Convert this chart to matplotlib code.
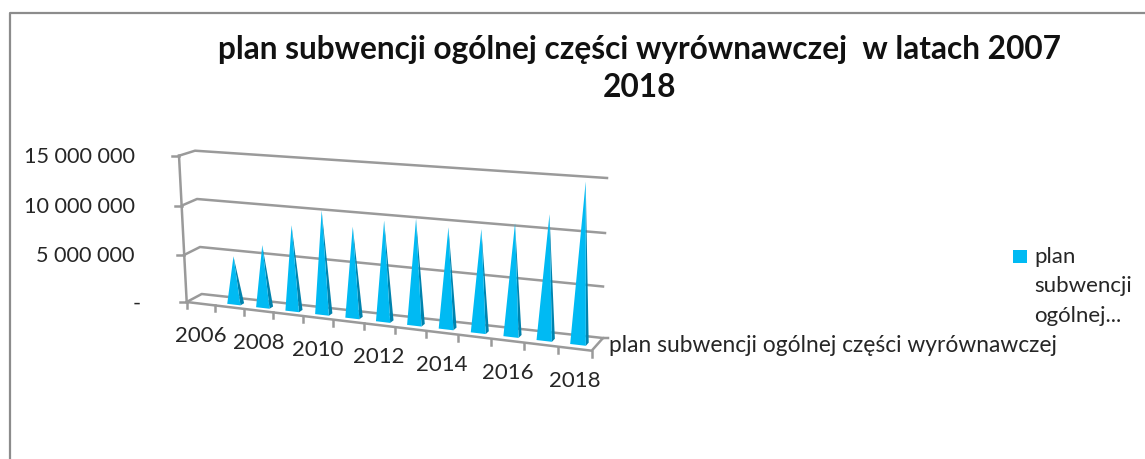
import numpy as np
import matplotlib
matplotlib.use("Agg")
import matplotlib.pyplot as plt
from matplotlib.patches import Polygon, Rectangle

plt.rcParams['font.family'] = ['Lato', 'DejaVu Sans']

# ---- data ----
categories = [2006, 2007, 2008, 2009, 2010, 2011, 2012, 2013, 2014, 2015, 2016, 2017, 2018]
values = [None, 4.98e6, 6.4e6, 8.66e6, 10.38e6, 9.06e6, 9.92e6, 10.36e6, 9.81e6, 9.91e6, 10.72e6, 11.8e6, 15.0e6]
value_ticks = [0, 5e6, 10e6, 15e6]
value_labels = ['-', '5 000 000', '10 000 000', '15 000 000']
shown_years = [2006, 2008, 2010, 2012, 2014, 2016, 2018]
series_name = 'plan subwencji ogólnej części wyrównawczej'
legend_lines = ['plan', 'subwencji', 'ogólnej...']
title_text = 'plan subwencji ogólnej części wyrównawczej  w latach 2007\n2018'

# ---- 3D box as seen in the picture: corner pixels for each value tick ----
front_left = np.array([(186.7, 302), (184, 255), (182, 205.5), (179, 155.7)])
back_left = np.array([(201.7, 294), (200, 247), (197, 199), (195, 150.7)])
back_right = np.array([(603, 338), (603, 286.5), (605, 233), (607, 178)])
front_right = np.array([(591.7, 350.7), (595, 297), (598, 242), (601, 186)])
PERSP = 0.905


def project(u, v, d):
    """Category position u (0..n), value v, depth d (0 front..1 back) to pixels."""
    s = u / len(categories)
    t = s * PERSP / (1 + s * (PERSP - 1))
    corner = lambda c: np.array([np.interp(v, value_ticks, c[:, 0]), np.interp(v, value_ticks, c[:, 1])])
    front = corner(front_left) * (1 - t) + corner(front_right) * t
    back = corner(back_left) * (1 - t) + corner(back_right) * t
    return front * (1 - d) + back * d


fig = plt.figure(figsize=(11.45, 4.59), dpi=100)
ax = fig.add_axes([0, 0, 1, 1])
ax.set_xlim(0, 1145)
ax.set_ylim(459, 0)
ax.axis('off')

# chart frame (only left and top visible)
ax.plot([9.5, 9.5, 1145], [459, 12.5, 12.5], color='#8c8c8c', lw=1.6, solid_capstyle='butt')

GRID = '#9a9a9a'
LW = 1.8
n = len(categories)

# gridlines + side wall
for v in value_ticks:
    a, b, c = project(0, v, 0), project(0, v, 1), project(n, v, 1)
    ax.plot([a[0], b[0], c[0]], [a[1], b[1], c[1]], color=GRID, lw=LW, zorder=1)
    ax.plot([a[0] - 7, a[0]], [a[1], a[1]], color=GRID, lw=LW, zorder=1)
a, b = project(0, 0, 0), project(0, 15e6, 0)
ax.plot([a[0], b[0]], [a[1], b[1]], color=GRID, lw=LW, zorder=1)

# floor front edge, right edge, ticks
a, b, c = project(0, 0, 0), project(n, 0, 0), project(n, 0, 1)
ax.plot([a[0], b[0], c[0], c[0] + 5], [a[1], b[1], c[1], c[1]], color=GRID, lw=LW, zorder=1)
for i in range(n + 1):
    p = project(i, 0, 0)
    ax.plot([p[0], p[0]], [p[1], p[1] + 6], color=GRID, lw=LW, zorder=1)

# pyramids
HALF = 0.23
D0, D1 = 0.3, 0.55
for i, val in enumerate(values):
    if val is None:
        continue
    u = i + 0.5
    fl = project(u - HALF, 0, D0)
    fr = project(u + HALF, 0, D0)
    br = project(u + HALF, 0, D1)
    apex = project(u, val, 0.4)
    ax.add_patch(Polygon([fr, br, apex], closed=True, fc='#0083AE', ec='none', zorder=2))
    ax.add_patch(Polygon([fl, fr, apex], closed=True, fc='#00BAF3', ec='none', zorder=3))

# tick labels
TXT = '#262626'
for v, lab in zip(value_ticks, value_labels):
    y = project(0, v, 0)[1]
    ax.text(135 if lab != '-' else 141, y + 1.5, lab, ha='right', va='center', fontsize=15.6, color=TXT)
for yr in shown_years:
    i = categories.index(yr)
    p = project(i + 0.5, 0, 0)
    ax.text(p[0], p[1] + 32, str(yr), ha='center', va='center', fontsize=16, color=TXT)
ax.text(609, 345, series_name, ha='left', va='center', fontsize=16.4, color=TXT)

# legend
ax.add_patch(Rectangle((1013, 250), 14, 12.5, fc='#00BAF3', ec='none'))
for line, y in zip(legend_lines, [257, 286, 316]):
    ax.text(1034, y, line, ha='left', va='center', fontsize=16, color=TXT)

# title
ax.text(640, 68.5, title_text, ha='center', va='center', fontsize=22.8, fontweight='bold',
        color='#111111', linespacing=1.35)

fig.savefig('out.png', dpi=100)
